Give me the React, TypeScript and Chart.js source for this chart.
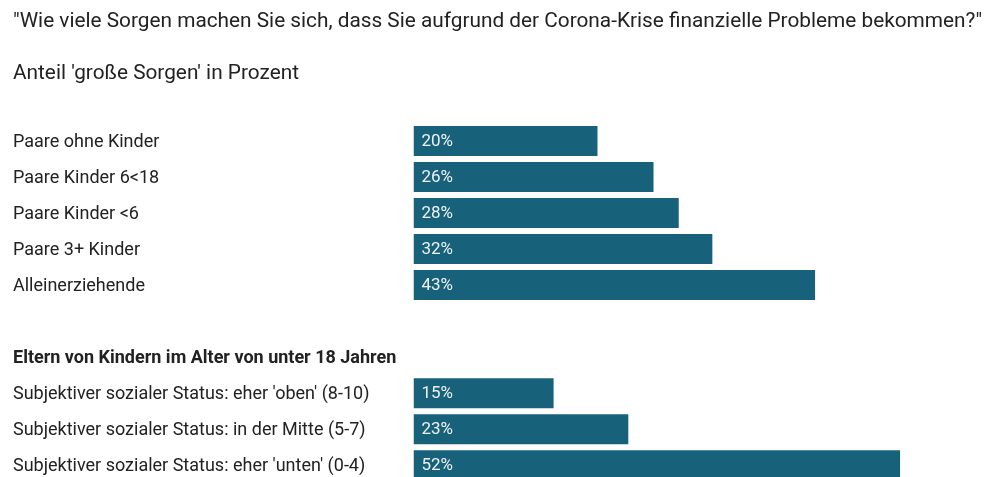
import React, { useEffect, useRef } from "react";
import { Chart, registerables } from "chart.js";

Chart.register(...registerables);

const TITLE =
  '"Wie viele Sorgen machen Sie sich, dass Sie aufgrund der Corona-Krise finanzielle Probleme bekommen?"';
const SUBTITLE = "Anteil 'große Sorgen' in Prozent";

const categories = [
  "Paare ohne Kinder",
  "Paare Kinder 6<18",
  "Paare Kinder <6",
  "Paare 3+ Kinder",
  "Alleinerziehende",
  "",
  "Eltern von Kindern im Alter von unter 18 Jahren",
  "Subjektiver sozialer Status: eher 'oben' (8-10)",
  "Subjektiver sozialer Status: in der Mitte (5-7)",
  "Subjektiver sozialer Status: eher 'unten' (0-4)",
];
const HEADER_INDEX = 6;

const values: (number | null)[] = [19.7, 25.7, 28.4, 32.0, 43.0, null, null, 15.0, 23.0, 52.1];
const valueLabels = ["20%", "26%", "28%", "32%", "43%", "", "", "15%", "23%", "52%"];

const X_MAX = 62.8;

const BAR_COLOR = "#17617a";
const TEXT_COLOR = "#222222";
const FONT = "Roboto";

const valueLabelPlugin = {
  id: "valueLabels",
  afterDatasetsDraw(chart: any) {
    const ctx = chart.ctx;
    const meta = chart.getDatasetMeta(0);
    ctx.save();
    ctx.font = `17px ${FONT}`;
    ctx.fillStyle = "#eef2f4";
    ctx.textBaseline = "middle";
    ctx.textAlign = "left";
    meta.data.forEach((el: any, i: number) => {
      if (values[i] == null) return;
      const p = el.getProps(["base", "y"], true);
      ctx.fillText(valueLabels[i], p.base + 8, p.y + 0.5);
    });
    ctx.restore();
  },
};

export default function App() {
  const canvasRef = useRef<HTMLCanvasElement | null>(null);

  useEffect(() => {
    let chart: Chart | null = null;
    let cancelled = false;
    const make = () => {
      if (cancelled || !canvasRef.current) return;
      chart = new Chart(canvasRef.current, {
        type: "bar",
        data: {
          labels: categories,
          datasets: [
            {
              data: values as any,
              backgroundColor: BAR_COLOR,
              borderWidth: 0,
              barPercentage: 30 / 36,
              categoryPercentage: 1,
            },
          ],
        },
        options: {
          indexAxis: "y",
          animation: false,
          responsive: false,
          layout: { padding: { left: 13, right: 0, top: 0, bottom: 0 } },
          plugins: {
            legend: { display: false },
            tooltip: { enabled: false },
            title: {
              display: true,
              text: TITLE,
              align: "start",
              color: TEXT_COLOR,
              font: { family: FONT, size: 20.8, weight: "normal" },
              padding: { top: 9.1, bottom: 13 },
            },
            subtitle: {
              display: true,
              text: SUBTITLE,
              align: "start",
              color: TEXT_COLOR,
              font: { family: FONT, size: 20.8, weight: "normal" },
              padding: { top: 14.5, bottom: 36.5 },
            },
          },
          scales: {
            x: { display: false, min: 0, max: X_MAX },
            y: {
              type: "category",
              grid: { display: false },
              border: { display: false },
              afterFit: (scale: any) => {
                scale.width = 400.5;
              },
              ticks: {
                autoSkip: false,
                crossAlign: "far",
                padding: 0,
                labelOffset: 1.5,
                color: TEXT_COLOR,
                font: (ctx: any) => ({
                  family: FONT,
                  size: 18,
                  weight: ctx.index === HEADER_INDEX ? "bold" : "normal",
                }),
              },
            },
          },
        },
        plugins: [valueLabelPlugin],
      });
    };
    const fontsReady = (document as any).fonts
      ? Promise.all([
          (document as any).fonts.load(`18px ${FONT}`),
          (document as any).fonts.load(`bold 18px ${FONT}`),
        ]).catch(() => null)
      : Promise.resolve(null);
    fontsReady.then(make);
    return () => {
      cancelled = true;
      if (chart) chart.destroy();
    };
  }, []);

  return (
    <div
      style={{
        position: "fixed",
        top: 0,
        left: 0,
        width: 1000,
        height: 477,
        overflow: "hidden",
        background: "#ffffff",
      }}
    >
      <canvas ref={canvasRef} width={1000} height={494} style={{ display: "block" }} />
    </div>
  );
}
